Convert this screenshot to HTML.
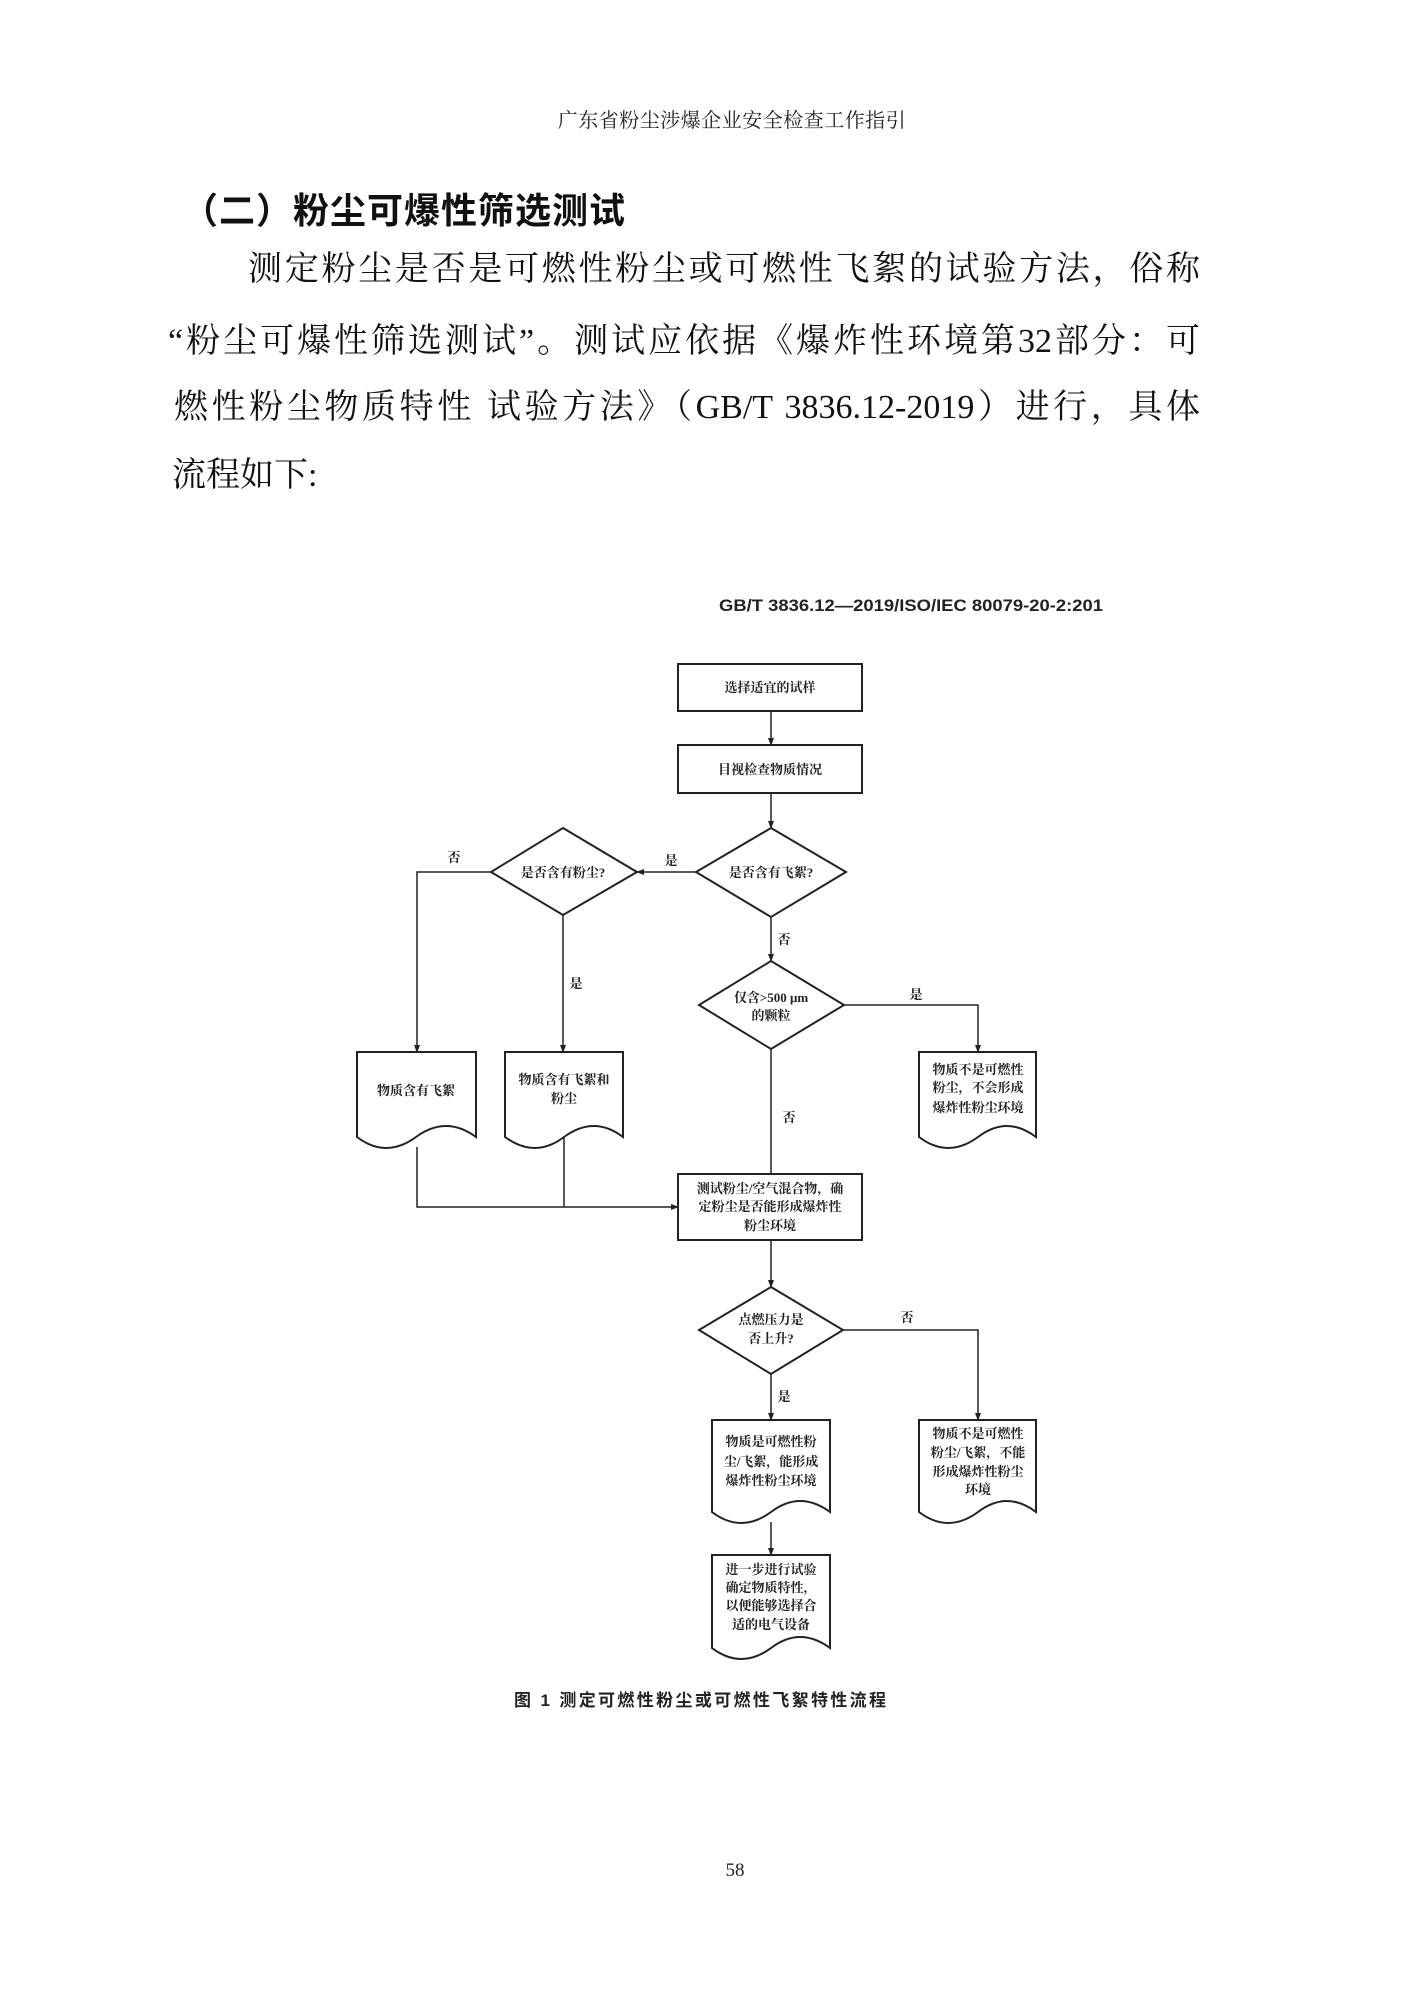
<!DOCTYPE html>
<html><head><meta charset="utf-8"><style>
html,body{margin:0;padding:0;background:#fff;}
body{width:1413px;height:2000px;position:relative;overflow:hidden;font-family:"Liberation Serif","Noto Serif CJK SC",serif;color:#111;}
.hd{position:absolute;left:552px;width:360px;top:104px;text-align:center;font-size:20px;font-family:"Liberation Serif","Noto Serif CJK SC",serif;color:#222;letter-spacing:0.5px;}
.tt{position:absolute;left:182px;top:182px;font-size:36px;font-weight:bold;font-family:"Liberation Sans","Noto Sans CJK SC",sans-serif;letter-spacing:1px;}
.ln{position:absolute;font-size:34px;line-height:40px;text-align:justify;text-align-last:justify;white-space:nowrap;}
.fl{position:absolute;left:172px;font-size:34px;line-height:40px;}
svg text{font-family:"Liberation Serif","Noto Serif CJK SC",serif;fill:#222;}
</style></head><body>
<div class="hd">广东省粉尘涉爆企业安全检查工作指引</div>
<div class="tt">（二）粉尘可爆性筛选测试</div>
<div class="ln" style="left:248px;width:952px;top:250px;">测定粉尘是否是可燃性粉尘或可燃性飞絮的试验方法，俗称</div>
<div class="ln" style="left:168px;width:1032px;top:322px;">“粉尘可爆性筛选测试”。测试应依据《爆炸性环境第32部分：可</div>
<div class="ln" style="left:174px;width:1026px;top:388px;">燃性粉尘物质特性 试验方法》（GB/T 3836.12-2019）进行，具体</div>
<div class="fl" style="top:456px;">流程如下:</div>

<svg width="1413" height="2000" style="position:absolute;left:0;top:0" xmlns="http://www.w3.org/2000/svg">
<defs><marker id="a" markerWidth="8" markerHeight="8" refX="7" refY="4" orient="auto" markerUnits="userSpaceOnUse"><path d="M0,1 L8,4 L0,7 Z" fill="#222"/></marker></defs>
<text x="719" y="611" font-size="17" font-weight="bold" textLength="384" lengthAdjust="spacingAndGlyphs" style="font-family:'Liberation Sans','Noto Sans CJK SC',sans-serif">GB/T  3836.12—2019/ISO/IEC 80079-20-2:201</text>
<g stroke="#222" stroke-width="2" fill="none">
<rect x="678" y="664" width="184" height="47"/>
<rect x="678" y="745" width="184" height="48"/>
<polygon points="771,828 846,872 771,917 696,872"/>
<polygon points="563,828 637,872 563,915 491,872"/>
<polygon points="771,961 844,1005 771,1049 699,1005"/>
<rect x="678" y="1174" width="184" height="66"/>
<polygon points="771,1287 843,1330 771,1374 699,1330"/>
<path d="M357,1052 H476 V1137 Q446,1115 416,1137 Q386,1159 357,1137 Z"/>
<path d="M505,1052 H623 V1137 Q594,1115 564,1137 Q535,1159 505,1137 Z"/>
<path d="M919,1052 H1036 V1137 Q1007,1115 978,1137 Q948,1159 919,1137 Z"/>
<path d="M712,1420 H830 V1512 Q800,1490 771,1512 Q741,1534 712,1512 Z"/>
<path d="M919,1420 H1036 V1512 Q1007,1490 978,1512 Q948,1534 919,1512 Z"/>
<path d="M712,1555 H830 V1648 Q800,1626 771,1648 Q741,1670 712,1648 Z"/>
</g>
<g stroke="#222" stroke-width="1.5" fill="none">
<line x1="771" y1="711" x2="771" y2="745" marker-end="url(#a)"/>
<line x1="771" y1="793" x2="771" y2="828" marker-end="url(#a)"/>
<line x1="696" y1="872" x2="637" y2="872" marker-end="url(#a)"/>
<polyline points="491,872 417,872 417,1052" marker-end="url(#a)"/>
<line x1="563" y1="915" x2="563" y2="1052" marker-end="url(#a)"/>
<line x1="771" y1="917" x2="771" y2="961" marker-end="url(#a)"/>
<polyline points="844,1005 978,1005 978,1052" marker-end="url(#a)"/>
<line x1="771" y1="1049" x2="771" y2="1174"/>
<polyline points="417,1147 417,1207 678,1207" marker-end="url(#a)"/>
<line x1="564" y1="1137" x2="564" y2="1207"/>
<line x1="771" y1="1240" x2="771" y2="1287" marker-end="url(#a)"/>
<polyline points="843,1330 978,1330 978,1420" marker-end="url(#a)"/>
<line x1="771" y1="1374" x2="771" y2="1420" marker-end="url(#a)"/>
<line x1="771" y1="1522" x2="771" y2="1555" marker-end="url(#a)"/>
</g>
<g font-size="13" text-anchor="middle" style="font-weight:bold">
<text x="770" y="692">选择适宜的试样</text>
<text x="770" y="774">目视检查物质情况</text>
<text x="771" y="877">是否含有飞絮?</text>
<text x="563" y="877">是否含有粉尘?</text>
<text x="454" y="862">否</text>
<text x="671" y="865">是</text>
<text x="784" y="944">否</text>
<text x="576" y="988">是</text>
<text x="916" y="999">是</text>
<text x="771" y="1002">仅含&gt;500 μm</text>
<text x="771" y="1020">的颗粒</text>
<text x="416" y="1095">物质含有飞絮</text>
<text x="564" y="1084">物质含有飞絮和</text>
<text x="564" y="1103">粉尘</text>
<text x="978" y="1074">物质不是可燃性</text>
<text x="978" y="1092">粉尘，不会形成</text>
<text x="978" y="1112">爆炸性粉尘环境</text>
<text x="789" y="1122">否</text>
<text x="770" y="1193">测试粉尘/空气混合物，确</text>
<text x="770" y="1211">定粉尘是否能形成爆炸性</text>
<text x="770" y="1230">粉尘环境</text>
<text x="771" y="1324">点燃压力是</text>
<text x="771" y="1343">否上升?</text>
<text x="907" y="1322">否</text>
<text x="784" y="1401">是</text>
<text x="771" y="1446">物质是可燃性粉</text>
<text x="771" y="1466">尘/飞絮，能形成</text>
<text x="771" y="1485">爆炸性粉尘环境</text>
<text x="978" y="1438">物质不是可燃性</text>
<text x="978" y="1457">粉尘/飞絮，不能</text>
<text x="978" y="1476">形成爆炸性粉尘</text>
<text x="978" y="1494">环境</text>
<text x="771" y="1574">进一步进行试验</text>
<text x="771" y="1592">确定物质特性，</text>
<text x="771" y="1610">以便能够选择合</text>
<text x="771" y="1629">适的电气设备</text>
</g>
<text x="514" y="1706" font-size="17" font-weight="bold" textLength="372" lengthAdjust="spacing" style="font-family:'Liberation Sans','Noto Sans CJK SC',sans-serif">图 1   测定可燃性粉尘或可燃性飞絮特性流程</text>
<text x="735" y="1876" font-size="19" text-anchor="middle">58</text>
</svg>
</body></html>
